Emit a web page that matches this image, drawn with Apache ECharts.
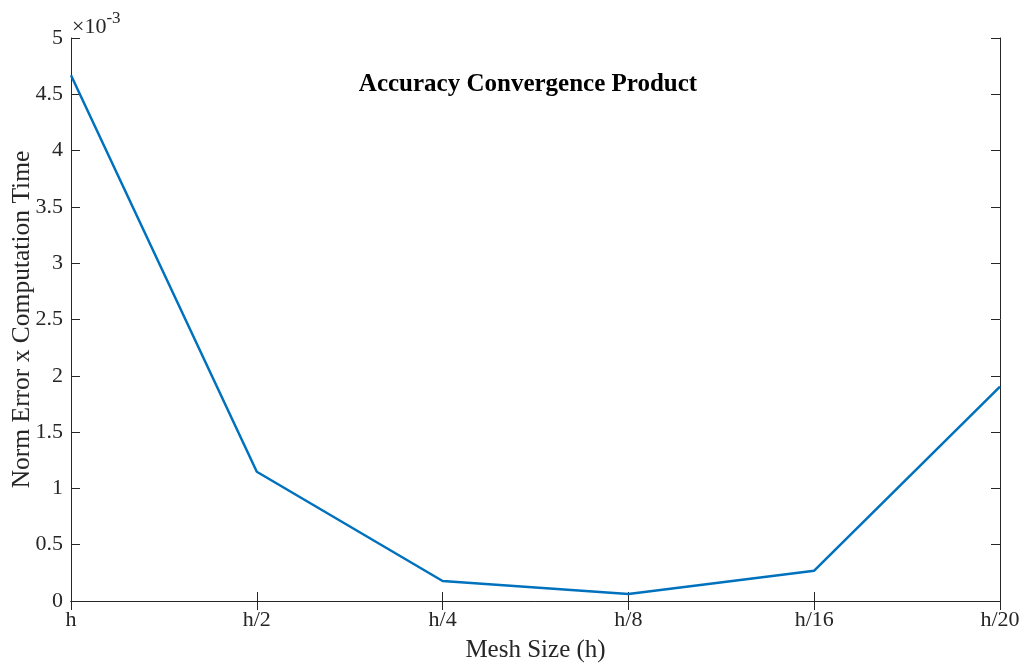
<!DOCTYPE html>
<html><head><meta charset="utf-8">
<script src="https://cdn.jsdelivr.net/npm/echarts@6/dist/echarts.min.js"></script>
<style>html,body{margin:0;padding:0;background:#fff}#c{width:1027px;height:664px}</style>
</head><body><div id="c"></div>
<script>
const categories = ['h', 'h/2', 'h/4', 'h/8', 'h/16', 'h/20'];
const productValues = [4.67, 1.148, 0.178, 0.062, 0.269, 1.903]; // ×10^-3
const yTicks = [0, 0.5, 1, 1.5, 2, 2.5, 3, 3.5, 4, 4.5, 5];

const font = 'Liberation Serif';
const axisCol = '#262626';
const chart = echarts.init(document.getElementById('c'));
const commonY = {
  type: 'value', min: 0, max: 5, interval: 0.5,
  axisLine: { show: true, lineStyle: { color: axisCol, width: 1 } },
  axisTick: { show: true, inside: true, length: 9, lineStyle: { color: axisCol } },
  splitLine: { show: false }
};
chart.setOption({
  animation: false,
  grid: { left: 71, right: 27, top: 38, bottom: 63, containLabel: false, outerBoundsMode: 'none' },
  xAxis: [{
    type: 'category', data: categories, boundaryGap: false,
    name: 'Mesh Size (h)', nameLocation: 'middle', nameGap: 37,
    nameTextStyle: { fontFamily: font, fontSize: 25, color: '#262626' },
    axisLine: { show: true, lineStyle: { color: axisCol, width: 1 } },
    axisTick: { show: true, inside: true, length: 9, alignWithLabel: true, lineStyle: { color: axisCol } },
    axisLabel: { fontFamily: font, fontSize: 22, color: '#262626', margin: 8, interval: 0 },
    splitLine: { show: false }
  }, {
    type: 'category', data: categories, boundaryGap: false, position: 'top',
    axisLine: { show: true, lineStyle: { color: axisCol, width: 1 } },
    axisTick: { show: true, inside: true, length: 9, lineStyle: { color: axisCol } },
    axisLabel: { show: false }, splitLine: { show: false }
  }],
  yAxis: [Object.assign({}, commonY, {
    name: 'Norm Error x Computation Time', nameLocation: 'middle', nameGap: 36,
    nameMoveOverlap: false,
    nameTextStyle: { fontFamily: font, fontSize: 25.5, color: '#262626' },
    axisLabel: { fontFamily: font, fontSize: 22, color: '#262626', margin: 8,
      formatter: v => yTicks.includes(v) ? String(v) : '' }
  }), Object.assign({}, commonY, { position: 'right', axisLabel: { show: false } })],
  series: [{
    type: 'line', data: productValues, symbol: 'none',
    lineStyle: { color: '#0072BD', width: 2.5 }, xAxisIndex: 0, yAxisIndex: 0
  }],
  graphic: [
    { type: 'text', x: 528, y: 85, style: { text: 'Accuracy Convergence Product',
      font: 'bold 25px "Liberation Serif"', fill: '#000', align: 'center', verticalAlign: 'middle' } },
    { type: 'text', left: 72, top: 10, style: {
      text: '{a|×10}{b|-3}', rich: {
        a: { fontFamily: font, fontSize: 22, fill: '#262626', verticalAlign: 'bottom', lineHeight: 28 },
        b: { fontFamily: font, fontSize: 17, fill: '#262626', verticalAlign: 'top', lineHeight: 24 }
      } } }
  ]
});
</script></body></html>
